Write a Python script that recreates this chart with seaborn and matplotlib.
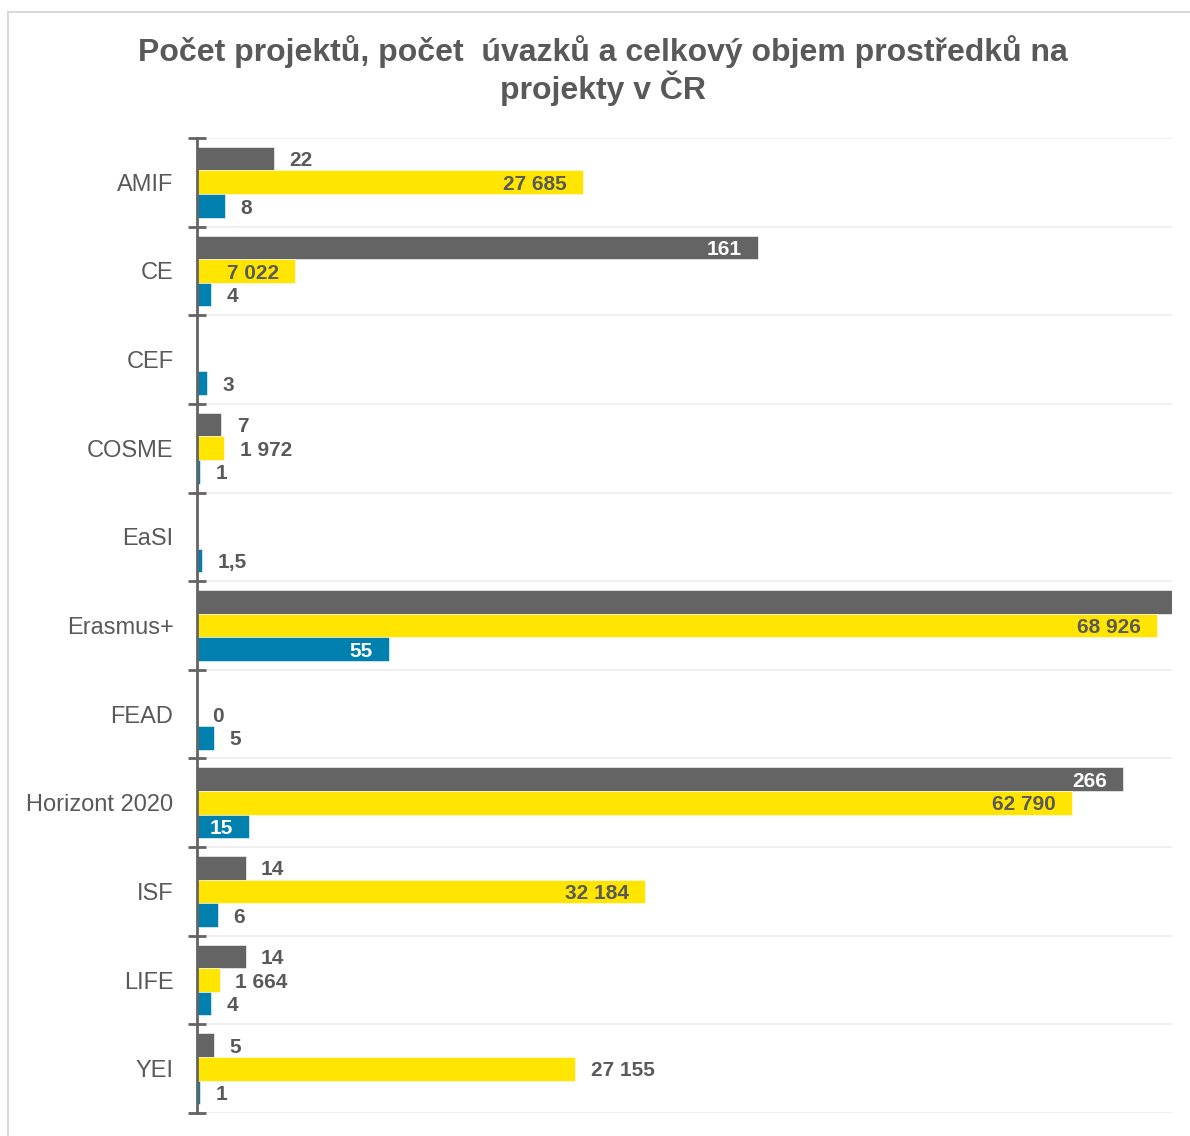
import numpy as np
import pandas as pd
import matplotlib.pyplot as plt
import seaborn as sns
from matplotlib.patches import Rectangle

# --- data ---
programs = ['AMIF', 'CE', 'CEF', 'COSME', 'EaSI', 'Erasmus+', 'FEAD',
            'Horizont 2020', 'ISF', 'LIFE', 'YEI']
# number of projects (grey); Erasmus+ runs off the chart, value not shown
projects = [22, 161, np.nan, 7, np.nan, 600, np.nan, 266, 14, 14, 5]
# total funds (yellow), drawn on a secondary scale
funds = [27685, 7022, np.nan, 1972, np.nan, 68926, 0, 62790, 32184, 1664, 27155]
# number of FTE positions (blue)
fte = [8, 4, 3, 1, 1.5, 55, 5, 15, 6, 4, 1]

series = ['Počet projektů', 'Objem prostředků', 'Počet úvazků']
colors = ['#646464', '#FFE500', '#0080AF']

X_MAX = 280        # primary axis (projects, FTE)
X2_MAX = 70000     # secondary axis (funds)
scale = X_MAX / X2_MAX

# which data labels sit inside the bar end
inside = {('Počet projektů', 'CE'), ('Počet projektů', 'Horizont 2020'),
          ('Objem prostředků', 'AMIF'), ('Objem prostředků', 'CE'),
          ('Objem prostředků', 'Erasmus+'), ('Objem prostředků', 'Horizont 2020'),
          ('Objem prostředků', 'ISF'),
          ('Počet úvazků', 'Erasmus+'), ('Počet úvazků', 'Horizont 2020')}

raw = {series[0]: projects, series[1]: funds, series[2]: fte}

df = pd.DataFrame({
    'program': programs * 3,
    'series': np.repeat(series, len(programs)),
    'value': list(projects) + [v * scale for v in funds] + list(fte),
})

sns.set_style('white')
plt.rcParams['font.family'] = ['Liberation Sans', 'DejaVu Sans']

TXT = '#595959'

fig = plt.figure(figsize=(11.9, 11.36), dpi=100)
ax = fig.add_axes([197 / 1190, 1 - 1113 / 1136, (1172 - 197) / 1190, (1113 - 138) / 1136])

sns.barplot(data=df, y='program', x='value', hue='series', order=programs,
            hue_order=series, palette=colors, saturation=1, orient='h', width=0.8,
            edgecolor='white', linewidth=0.4, legend=False, ax=ax)

ax.set_xlim(0, X_MAX)
ax.set_ylim(len(programs) - 0.5, -0.5)
ax.set_xlabel('')
ax.set_ylabel('')
ax.set_xticks([])

# boundaries: ticks + grid; centers: labels
ax.set_yticks(np.arange(-0.5, len(programs), 1.0))
ax.set_yticklabels([])
ax.set_yticks(np.arange(len(programs)), minor=True)
ax.set_yticklabels(programs, minor=True, fontsize=17, color=TXT)
ax.tick_params(axis='y', which='major', left=True, direction='inout', length=13,
               width=2, color='#646464')
ax.tick_params(axis='y', which='minor', left=True, length=0, pad=17)
ax.yaxis.grid(True, which='major', color='#ececec', linewidth=1.2)
ax.set_axisbelow(True)

for side in ['top', 'right', 'bottom']:
    ax.spines[side].set_visible(False)
ax.spines['left'].set_color('#646464')
ax.spines['left'].set_linewidth(2)
ax.spines['left'].set_zorder(5)


def fmt(v):
    if float(v).is_integer():
        return f'{int(v):,}'.replace(',', ' ')
    return f'{v}'.replace('.', ',')


for cont, name in zip(ax.containers, series):
    for bar in cont:
        w = bar.get_width()
        yc = bar.get_y() + bar.get_height() / 2
        i = int(round(yc))
        v = raw[name][i]
        if np.isnan(v) or np.isnan(w) or w > X_MAX:
            continue
        if (name, programs[i]) in inside:
            col = TXT if name == series[1] else 'white'
            ax.annotate(fmt(v), (w, yc), xytext=(-11.5, -1.5), textcoords='offset points',
                        ha='right', va='center', fontsize=15, fontweight='bold', color=col)
        else:
            ax.annotate(fmt(v), (w, yc), xytext=(11, -1.5), textcoords='offset points',
                        ha='left', va='center', fontsize=15, fontweight='bold', color=TXT)

fig.text(0.507, 1 - 35 / 1136,
         'Počet projektů, počet  úvazků a celkový objem prostředků na\nprojekty v ČR',
         ha='center', va='top', fontsize=23, fontweight='bold', color=TXT,
         linespacing=1.1)

# chart frame
fig.patches.append(Rectangle((8 / 1190, -0.05), 1.1, 1.05 - 12 / 1136,
                             transform=fig.transFigure, fill=False,
                             edgecolor='#d9d9d9', linewidth=1.5))

fig.savefig('out.png', dpi=100)
